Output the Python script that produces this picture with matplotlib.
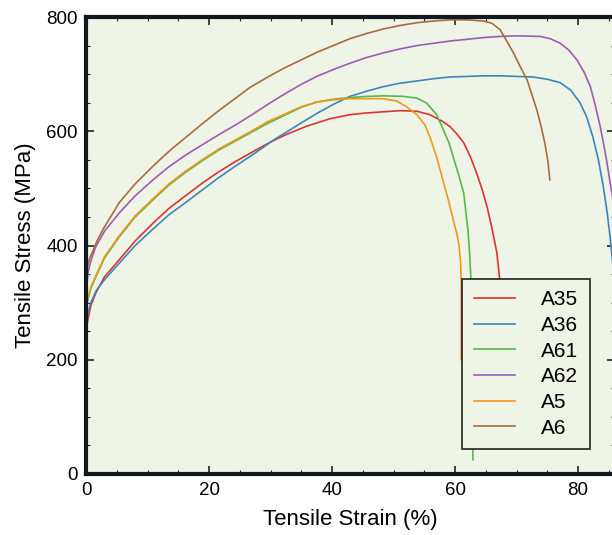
import matplotlib
matplotlib.use("Agg")
from matplotlib import pyplot as plt
from matplotlib.ticker import MultipleLocator

plt.rcParams['font.family'] = ['Liberation Sans', 'DejaVu Sans']

# strain (%) / stress (MPa)
a35_x = [0, 0.3, 0.8, 1.6, 3, 5.4, 8, 10.9, 13.5, 16.3, 19, 21.6, 24.3, 27.1, 29.8, 32.5, 35.9, 39.7,
         42.9, 45.5, 48.3, 51.1, 53.8, 55.9, 58.0, 59.2, 60.3, 61.4, 62.5, 63.5, 64.4, 65.2, 66.0,
         66.8, 67.3, 67.6, 67.8]
a35_y = [250, 270, 295, 317, 345, 375, 408, 439, 465, 488, 510, 529, 547, 564, 580, 594, 609, 622,
         629, 632, 634, 636, 635, 629, 617, 608, 595, 580, 555, 527, 498, 468, 430,
         387, 336, 290, 250]

a36_x = [0, 0.3, 0.8, 1.6, 3, 5.4, 8, 10.9, 13.5, 16.3, 19, 21.6, 24.3, 27.1, 30.4, 34.3, 37.5,
         40.2, 42.9, 45.6, 48.3, 51, 53.8, 56.5, 59.2, 62, 64.6, 67.3, 70, 72.7, 75, 77.1, 78.8,
         80.3, 81.4, 82.4, 83.3, 84.1, 84.7, 85.2, 85.8, 86.3]
a36_y = [262, 282, 300, 320, 340, 369, 400, 429, 454, 476, 498, 519, 539, 559, 584, 610, 631,
         647, 661, 670, 678, 684, 688, 692, 695, 696, 697, 697, 696, 695, 691, 685, 672,
         650, 625, 590, 550, 503, 460, 415, 350, 280]

a61_x = [0, 0.3, 0.8, 1.6, 3, 5.4, 8, 10.9, 13.5, 16.3, 19, 21.6, 24.3, 26.7, 29.4, 32.3, 35,
         37.5, 40.2, 42.9, 45.6, 48.3, 51.6, 53.8, 55.4, 57.0, 58.0, 59.0, 59.7, 60.6, 61.4,
         62.1, 62.4, 62.6, 62.8, 62.9]
a61_y = [285, 305, 325, 345, 378, 415, 450, 480, 506, 529, 549, 567, 583, 597, 613, 628, 642,
         651, 656, 659, 661, 662, 661, 658, 649, 629, 605, 580, 555, 523, 492,
         427, 380, 336, 200, 25]

a62_x = [0, 0.15, 0.3, 0.6, 1.0, 1.6, 3, 5.4, 8, 10.9, 13.5, 16.3, 19, 21.6, 24.3, 26.7, 29.4,
         32.1, 34.8, 37.5, 40.2, 42.9, 45.6, 48.3, 51, 53.8, 56.5, 59.2, 62, 64.6, 67.3, 70,
         73.8, 75.5, 77.1, 78.5, 79.8, 81, 82.0, 82.8, 83.6, 84.2, 84.7, 85.2, 85.5, 86.3]
a62_y = [300, 330, 350, 365, 380, 398, 425, 457, 487, 515, 538, 559, 577, 594, 611, 627, 646,
         664, 681, 696, 708, 719, 729, 737, 744, 750, 754, 758, 761, 764, 766, 767,
         766, 762, 754, 742, 725, 703, 678, 645, 608, 575, 545, 510, 492, 430]

a5_x = [0, 0.3, 0.8, 1.6, 3, 5.4, 8, 10.9, 13.5, 16.3, 19, 21.6, 24.3, 26.7, 29.4, 32.3, 35,
        37.5, 40.2, 42.9, 45.6, 48.3, 50.5, 52.1, 53.8, 55.1, 55.9, 57.0, 58.0, 58.9, 59.7,
        60.3, 60.6, 60.9, 61.0, 61.0]
a5_y = [288, 308, 328, 347, 380, 417, 452, 482, 508, 531, 551, 569, 585, 599, 616, 630, 643,
        651, 655, 657, 657, 657, 653, 643, 629, 611, 590, 555, 515, 480, 445,
        420, 404, 370, 336, 200]

a6_x = [0, 0.15, 0.3, 0.6, 1.1, 1.8, 2.7, 4, 5.4, 8, 10.8, 13.5, 16.3, 19, 21.7, 24.2, 26.7,
        29.4, 32.1, 34.8, 37.5, 40.2, 42.9, 45.6, 48.3, 51, 53.8, 56.5, 59.2, 62, 64.6, 66,
        67.3, 68.4, 69.5, 70.6, 71.7, 72.5, 73.3, 74.0, 74.6, 75.1, 75.4]
a6_y = [335, 355, 365, 378, 390, 408, 427, 450, 475, 508, 538, 565, 590, 614, 637, 657, 677,
        694, 710, 724, 738, 750, 762, 771, 779, 785, 790, 793, 795, 795, 793, 789,
        778, 758, 737, 713, 690, 664, 637, 608, 579, 547, 515]

labels = ['A35', 'A36', 'A61', 'A62', 'A5', 'A6']
colors = ['#e0322f', '#3a86bd', '#55b848', '#9f5bb3', '#f3961f', '#a86b3a']
series = [(a35_x, a35_y), (a36_x, a36_y), (a61_x, a61_y),
          (a62_x, a62_y), (a5_x, a5_y), (a6_x, a6_y)]

fig = plt.figure(figsize=(6.12, 5.35), dpi=100)
ax = fig.add_axes([86 / 612, 1 - 474 / 535, 529 / 612, 457 / 535])
bg = '#eef5e7'
ax.set_facecolor(bg)

for (xs, ys), lab, col in zip(series, labels, colors):
    ax.plot(xs, ys, color=col, lw=1.2, label=lab)

ax.set_xlim(0, 86)
ax.set_ylim(0, 800)
ax.xaxis.set_major_locator(MultipleLocator(20))
ax.xaxis.set_minor_locator(MultipleLocator(5))
ax.yaxis.set_major_locator(MultipleLocator(200))
ax.yaxis.set_minor_locator(MultipleLocator(50))
ax.tick_params(which='both', direction='in', top=True, right=True, labelsize=13.5, color='#222222')
ax.tick_params(which='major', length=6, width=1.2, pad=6)
ax.tick_params(which='minor', length=3, width=0.8)

for side in ['left', 'top', 'bottom', 'right']:
    ax.spines[side].set_linewidth(3)
    ax.spines[side].set_color('#101820')

ax.set_xlabel('Tensile Strain (%)', fontsize=16, labelpad=7)
ax.set_ylabel('Tensile Stress (MPa)', fontsize=16, labelpad=7)

leg = ax.legend(loc='lower right', bbox_to_anchor=(590 / 612, 1 - 449 / 535),
                bbox_transform=fig.transFigure, borderaxespad=0, fontsize=15,
                fancybox=False, framealpha=1, facecolor=bg, edgecolor='#222222',
                handlelength=2.0, handletextpad=1.25, labelspacing=0.32,
                borderpad=0.55)
leg.get_frame().set_linewidth(1.2)

fig.savefig('out.png', dpi=100)
